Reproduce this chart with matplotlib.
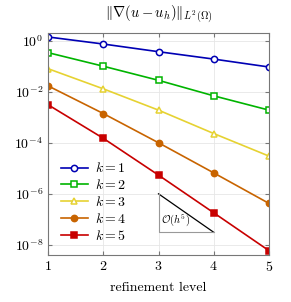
import numpy as np
import matplotlib
matplotlib.use('Agg')
import matplotlib.pyplot as plt
import matplotlib.ticker as mticker

plt.rcParams['font.family'] = 'serif'
plt.rcParams['font.serif'] = ['cmr10']
plt.rcParams['mathtext.fontset'] = 'cm'
plt.rcParams['axes.formatter.use_mathtext'] = True

# data
levels = [1, 2, 3, 4, 5]
err_k1 = [1.4, 0.74, 0.37, 0.19, 0.093]
err_k2 = [0.34, 0.10, 0.028, 0.0069, 0.0019]
err_k3 = [0.08, 0.013, 0.0019, 2.3e-4, 3.0e-5]
err_k4 = [0.017, 1.4e-3, 1.0e-4, 6.6e-6, 4.2e-7]
err_k5 = [3.1e-3, 1.5e-4, 5.4e-6, 1.8e-7, 5.9e-9]
labels = ['$k=1$', '$k=2$', '$k=3$', '$k=4$', '$k=5$']
yticks = [1e0, 1e-2, 1e-4, 1e-6, 1e-8]

# slope triangle O(h^5)
tri_x = [3, 4]
tri_y = [1.0e-6, 3.1e-8]

fig = plt.figure(figsize=(2.91, 3.02), dpi=100)
ax = fig.add_axes([48/291, 1 - 255/302, 221/291, 222/302])

styles = [
    dict(color='#0000b4', marker='o', mfc='white'),
    dict(color='#00b400', marker='s', mfc='white'),
    dict(color='#e6d232', marker='^', mfc='white'),
    dict(color='#c86400', marker='o', mfc='#c86400'),
    dict(color='#c80000', marker='s', mfc='#c80000'),
]
for y, lab, st in zip([err_k1, err_k2, err_k3, err_k4, err_k5], labels, styles):
    ax.plot(levels, y, label=lab, lw=1.2, ms=4.5, mew=1.1, **st)

# triangle
ax.plot(tri_x, tri_y, color='black', lw=0.9)
ax.plot([tri_x[0], tri_x[0], tri_x[1]], [tri_y[0], tri_y[1], tri_y[1]],
        color='#999999', lw=0.8)
ax.text(3.05, 7e-8, r'$\mathcal{O}(h^5)$', fontsize=7.5)

ax.set_yscale('log')
ax.set_xlim(1, 5)
ax.set_ylim(4e-9, 2.0)
ax.set_xticks(levels)
ax.set_yticks(yticks)
ax.yaxis.set_minor_locator(mticker.NullLocator())
ax.grid(True, color='#e6e6e6', lw=0.6)
ax.set_axisbelow(True)
ax.tick_params(direction='in', top=True, right=True, labelsize=10,
               color='#777777', length=3)
for s in ax.spines.values():
    s.set_color('#777777')

ax.set_xlabel('refinement level', fontsize=10, labelpad=6)
ax.set_title(r'$\|\nabla(u-u_h)\|_{L^2(\Omega)}$', fontsize=10.5, pad=11)

ax.legend(loc='lower left', fontsize=10, frameon=False, handlelength=2.0,
          labelspacing=0.2, borderaxespad=0.5, handletextpad=0.5,
          bbox_to_anchor=(0.0, 0.0))

fig.savefig('out.png', dpi=100)
